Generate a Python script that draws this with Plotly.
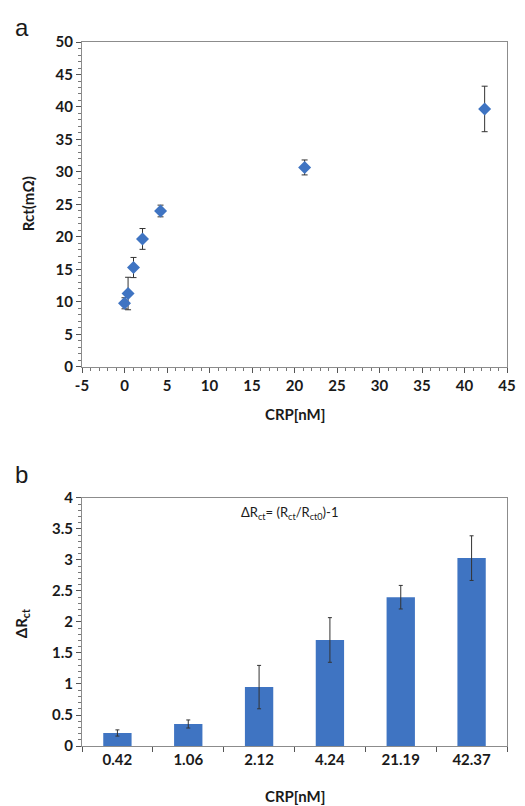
import plotly.graph_objects as go

# Panel a data
crp_a = [0, 0.42, 1.06, 2.12, 4.24, 21.19, 42.37]
rct = [9.8, 11.3, 15.3, 19.7, 24.0, 30.7, 39.7]
rct_err = [0.85, 2.5, 1.55, 1.6, 0.9, 1.15, 3.5]
xa_ticks = [-5, 0, 5, 10, 15, 20, 25, 30, 35, 40, 45]
xa_labels = ["-5", "0", "5", "10", "15", "20", "25", "30", "35", "40", "45"]

# Panel b data
crp_b = ["0.42", "1.06", "2.12", "4.24", "21.19", "42.37"]
drct = [0.21, 0.355, 0.95, 1.71, 2.40, 3.03]
drct_err = [0.05, 0.065, 0.35, 0.36, 0.19, 0.36]

FONT = "Lato"
BLUE = "#3f74c2"
AX = "#8c8c8c"

fig = go.Figure()

fig.add_trace(go.Scatter(
    x=crp_a, y=rct, mode="markers",
    marker=dict(symbol="diamond", size=10, color=BLUE),
    error_y=dict(type="data", array=rct_err, color="#333333", thickness=1, width=3),
    xaxis="x", yaxis="y", showlegend=False,
))

fig.add_trace(go.Bar(
    x=crp_b, y=drct,
    marker=dict(color=BLUE, line=dict(width=0)),
    error_y=dict(type="data", array=drct_err, color="#333333", thickness=1, width=2),
    xaxis="x2", yaxis="y2", showlegend=False,
))

TF = dict(family=FONT, size=15, color="#1a1a1a", weight="bold")

def px_y(py):
    return (746 - py) / 704

def px_x(px):
    return (px - 82) / 434

common = dict(showline=True, linecolor=AX, mirror=True, linewidth=1,
              ticks="outside", ticklen=5, tickcolor="#555555",
              showgrid=False, zeroline=False, tickfont=TF)

fig.update_layout(
    width=525, height=806,
    margin=dict(l=82, r=9, t=42, b=60),
    paper_bgcolor="white", plot_bgcolor="white",
    font=dict(family=FONT, color="#222222"),
    bargap=0.6,
    xaxis=dict(domain=[0, 1], anchor="y", range=[-5, 45],
               tickmode="array", tickvals=xa_ticks, ticktext=xa_labels,
               ticklabeloverflow="allow",
               minor=dict(tickmode="linear", tick0=0, dtick=1, ticks="outside", ticklen=3, tickcolor="#777777"),
               **common),
    yaxis=dict(domain=[0.5384, 1], anchor="x", range=[0, 50], dtick=5,
               minor=dict(dtick=1, ticks="outside", ticklen=3, tickcolor="#777777"),
               **common),
    xaxis2=dict(domain=[0, 1], anchor="y2", type="category", tickson="boundaries",
                **common),
    yaxis2=dict(domain=[0, 0.3523], anchor="x2", range=[0, 4], dtick=0.5,
                minor=dict(dtick=0.1, ticks="outside", ticklen=3, tickcolor="#777777"),
                **common),
)

def a(text, px, py, size=15, bold=True, angle=0, family=FONT):
    f = dict(family=family, size=size, color="#1a1a1a")
    if bold:
        f["weight"] = "bold"
    return dict(text=text, x=px_x(px), y=px_y(py), xref="paper", yref="paper",
                xanchor="center", yanchor="middle", textangle=angle,
                showarrow=False, font=f)

ann = [
    a("a", 21, 27, size=24, bold=False, family="Liberation Sans"),
    a("b", 20, 474, size=24, bold=False, family="Liberation Sans"),
    a("Rct(mΩ)", 27, 204, angle=-90),
    a("CRP[nM]", 299, 414),
    a("ΔR<sub>ct</sub>", 21, 624, angle=-90),
    a("CRP[nM]", 299, 796),
    a("ΔR<sub>ct</sub>= (R<sub>ct</sub>/R<sub>ct0</sub>)-1", 294, 513, size=13, bold=False),
]
fig.update_layout(annotations=ann)

fig.write_html("out.html", config={"displayModeBar": False},
               post_script="document.body.style.margin='0';document.body.style.overflow='hidden';")
